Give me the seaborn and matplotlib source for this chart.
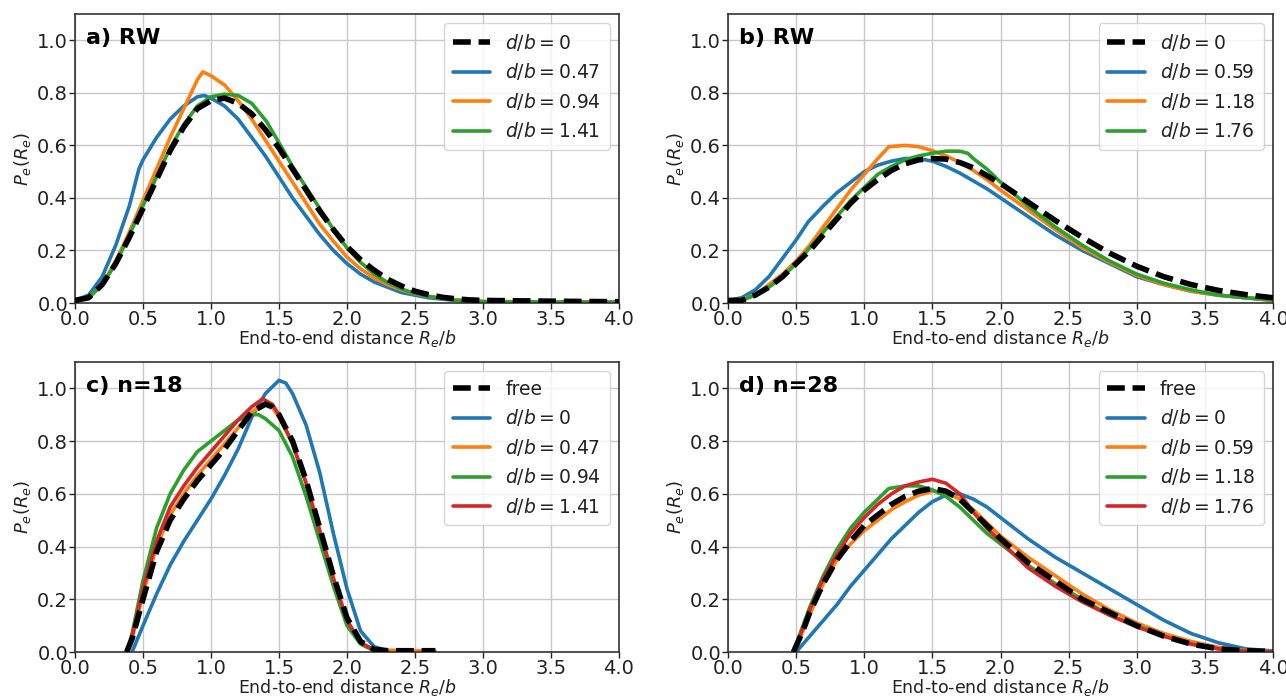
import numpy as np
import pandas as pd
import matplotlib
matplotlib.use("Agg")
import matplotlib.pyplot as plt
import seaborn as sns

# ---------------- data ----------------
# Panel a) RW
a_free_x = [0, 0.1, 0.2, 0.3, 0.4, 0.5, 0.6, 0.7, 0.8, 0.9, 1.0, 1.1, 1.2, 1.3, 1.4, 1.5, 1.6, 1.7, 1.8, 1.9, 2.0, 2.1, 2.2, 2.3, 2.4, 2.5, 2.6, 2.7, 2.8, 2.9, 3.0, 3.5, 4.0]
a_free_y = [0.01, 0.02, 0.07, 0.15, 0.25, 0.36, 0.47, 0.58, 0.67, 0.74, 0.77, 0.78, 0.76, 0.72, 0.66, 0.59, 0.51, 0.43, 0.35, 0.28, 0.215, 0.165, 0.125, 0.09, 0.065, 0.045, 0.032, 0.022, 0.016, 0.012, 0.01, 0.007, 0.005]
a_d047_x = [0, 0.1, 0.2, 0.3, 0.4, 0.47, 0.5, 0.6, 0.7, 0.8, 0.9, 0.95, 1.0, 1.1, 1.2, 1.3, 1.4, 1.5, 1.6, 1.7, 1.8, 1.9, 2.0, 2.1, 2.2, 2.3, 2.4, 2.5, 2.6, 2.8, 3.0, 4.0]
a_d047_y = [0.01, 0.03, 0.1, 0.22, 0.37, 0.51, 0.545, 0.63, 0.7, 0.75, 0.785, 0.79, 0.78, 0.75, 0.7, 0.63, 0.56, 0.48, 0.4, 0.33, 0.26, 0.2, 0.15, 0.11, 0.08, 0.06, 0.04, 0.03, 0.02, 0.01, 0.005, 0.003]
a_d094_x = [0, 0.1, 0.2, 0.3, 0.4, 0.5, 0.6, 0.7, 0.8, 0.9, 0.94, 1.0, 1.1, 1.2, 1.3, 1.4, 1.5, 1.6, 1.7, 1.8, 1.9, 2.0, 2.1, 2.2, 2.3, 2.4, 2.5, 2.6, 2.8, 3.0, 4.0]
a_d094_y = [0.01, 0.02, 0.07, 0.16, 0.27, 0.39, 0.51, 0.63, 0.74, 0.85, 0.88, 0.865, 0.83, 0.77, 0.7, 0.62, 0.54, 0.46, 0.38, 0.3, 0.235, 0.175, 0.13, 0.095, 0.07, 0.05, 0.035, 0.025, 0.012, 0.006, 0.003]
a_d141_x = [0, 0.1, 0.2, 0.3, 0.4, 0.5, 0.6, 0.7, 0.8, 0.9, 1.0, 1.1, 1.2, 1.3, 1.41, 1.5, 1.6, 1.7, 1.8, 1.9, 2.0, 2.1, 2.2, 2.3, 2.4, 2.5, 2.6, 2.8, 3.0, 4.0]
a_d141_y = [0.01, 0.02, 0.07, 0.15, 0.26, 0.37, 0.48, 0.59, 0.68, 0.75, 0.785, 0.795, 0.79, 0.76, 0.69, 0.61, 0.52, 0.44, 0.36, 0.28, 0.21, 0.155, 0.11, 0.078, 0.054, 0.036, 0.025, 0.01, 0.005, 0.003]

# Panel b) RW
b_free_x = [0, 0.1, 0.2, 0.3, 0.4, 0.5, 0.6, 0.7, 0.8, 0.9, 1.0, 1.1, 1.2, 1.3, 1.4, 1.5, 1.6, 1.7, 1.8, 1.9, 2.0, 2.2, 2.4, 2.6, 2.8, 3.0, 3.2, 3.4, 3.6, 3.8, 4.0]
b_free_y = [0.01, 0.01, 0.03, 0.06, 0.1, 0.15, 0.2, 0.26, 0.32, 0.38, 0.43, 0.47, 0.505, 0.53, 0.545, 0.55, 0.548, 0.535, 0.515, 0.485, 0.455, 0.385, 0.315, 0.25, 0.19, 0.14, 0.1, 0.07, 0.048, 0.032, 0.02]
b_d059_x = [0, 0.1, 0.2, 0.3, 0.4, 0.5, 0.59, 0.7, 0.8, 0.9, 1.0, 1.1, 1.2, 1.3, 1.4, 1.5, 1.6, 1.7, 1.8, 1.9, 2.0, 2.2, 2.4, 2.6, 2.8, 3.0, 3.2, 3.4, 3.6, 3.8, 4.0]
b_d059_y = [0.01, 0.02, 0.05, 0.1, 0.17, 0.24, 0.31, 0.37, 0.42, 0.46, 0.5, 0.525, 0.54, 0.55, 0.55, 0.54, 0.52, 0.495, 0.465, 0.435, 0.4, 0.33, 0.26, 0.2, 0.15, 0.1, 0.07, 0.045, 0.03, 0.02, 0.01]
b_d118_x = [0, 0.1, 0.2, 0.3, 0.4, 0.5, 0.6, 0.7, 0.8, 0.9, 1.0, 1.1, 1.18, 1.3, 1.4, 1.5, 1.6, 1.7, 1.8, 1.9, 2.0, 2.2, 2.4, 2.6, 2.8, 3.0, 3.2, 3.4, 3.6, 3.8, 4.0]
b_d118_y = [0.01, 0.015, 0.03, 0.07, 0.11, 0.16, 0.22, 0.29, 0.36, 0.43, 0.49, 0.55, 0.595, 0.6, 0.595, 0.58, 0.56, 0.535, 0.505, 0.47, 0.43, 0.355, 0.28, 0.21, 0.155, 0.105, 0.07, 0.045, 0.03, 0.02, 0.01]
b_d176_x = [0, 0.1, 0.2, 0.3, 0.4, 0.5, 0.6, 0.7, 0.8, 0.9, 1.0, 1.1, 1.2, 1.3, 1.4, 1.5, 1.6, 1.7, 1.76, 1.8, 1.9, 2.0, 2.2, 2.4, 2.6, 2.8, 3.0, 3.2, 3.4, 3.6, 3.8, 4.0]
b_d176_y = [0.005, 0.01, 0.03, 0.06, 0.1, 0.15, 0.21, 0.27, 0.33, 0.39, 0.44, 0.49, 0.52, 0.545, 0.56, 0.57, 0.578, 0.578, 0.57, 0.55, 0.51, 0.46, 0.37, 0.29, 0.22, 0.16, 0.11, 0.075, 0.05, 0.03, 0.02, 0.012]

# Panel c) n=18
c_free_x = [0.38, 0.42, 0.5, 0.6, 0.7, 0.8, 0.9, 1.0, 1.1, 1.2, 1.3, 1.4, 1.45, 1.5, 1.6, 1.7, 1.8, 1.9, 2.0, 2.1, 2.2, 2.3, 2.65]
c_free_y = [0.0, 0.05, 0.2, 0.38, 0.5, 0.58, 0.65, 0.71, 0.77, 0.84, 0.91, 0.94, 0.93, 0.9, 0.8, 0.65, 0.47, 0.29, 0.13, 0.04, 0.01, 0.005, 0.005]
c_d0_x = [0.42, 0.5, 0.6, 0.7, 0.8, 0.9, 1.0, 1.1, 1.2, 1.3, 1.4, 1.5, 1.55, 1.6, 1.7, 1.8, 1.9, 2.0, 2.1, 2.2, 2.3]
c_d0_y = [0.0, 0.1, 0.22, 0.33, 0.42, 0.5, 0.58, 0.67, 0.77, 0.89, 0.98, 1.03, 1.02, 0.98, 0.86, 0.68, 0.45, 0.24, 0.08, 0.02, 0.005]
c_d047_x = [0.38, 0.42, 0.5, 0.6, 0.7, 0.8, 0.9, 1.0, 1.1, 1.2, 1.3, 1.4, 1.45, 1.5, 1.6, 1.7, 1.8, 1.9, 2.0, 2.1, 2.2, 2.65]
c_d047_y = [0.0, 0.05, 0.22, 0.4, 0.52, 0.6, 0.67, 0.73, 0.79, 0.85, 0.91, 0.94, 0.93, 0.89, 0.79, 0.64, 0.46, 0.28, 0.12, 0.035, 0.008, 0.003]
c_d094_x = [0.38, 0.42, 0.5, 0.6, 0.7, 0.8, 0.9, 1.0, 1.1, 1.2, 1.3, 1.35, 1.4, 1.5, 1.6, 1.7, 1.8, 1.9, 2.0, 2.1, 2.2]
c_d094_y = [0.0, 0.07, 0.27, 0.47, 0.6, 0.69, 0.76, 0.8, 0.84, 0.88, 0.9, 0.9, 0.885, 0.84, 0.74, 0.59, 0.42, 0.25, 0.1, 0.03, 0.005]
c_d141_x = [0.38, 0.42, 0.5, 0.6, 0.7, 0.8, 0.9, 1.0, 1.1, 1.2, 1.3, 1.38, 1.45, 1.5, 1.6, 1.7, 1.8, 1.9, 2.0, 2.1, 2.2, 2.3]
c_d141_y = [0.0, 0.06, 0.24, 0.42, 0.55, 0.63, 0.7, 0.76, 0.82, 0.88, 0.93, 0.96, 0.94, 0.9, 0.79, 0.64, 0.46, 0.28, 0.12, 0.035, 0.008, 0.003]

# Panel d) n=28
d_free_x = [0.48, 0.55, 0.6, 0.7, 0.8, 0.9, 1.0, 1.1, 1.2, 1.3, 1.4, 1.5, 1.6, 1.7, 1.8, 1.9, 2.0, 2.2, 2.4, 2.6, 2.8, 3.0, 3.2, 3.4, 3.6, 3.8, 4.0]
d_free_y = [0.0, 0.08, 0.15, 0.26, 0.35, 0.42, 0.48, 0.52, 0.56, 0.59, 0.61, 0.62, 0.61, 0.58, 0.53, 0.48, 0.43, 0.34, 0.27, 0.2, 0.15, 0.1, 0.06, 0.03, 0.012, 0.005, 0.002]
d_d0_x = [0.5, 0.6, 0.7, 0.8, 0.9, 1.0, 1.1, 1.2, 1.3, 1.4, 1.5, 1.6, 1.7, 1.8, 1.9, 2.0, 2.2, 2.4, 2.6, 2.8, 3.0, 3.2, 3.4, 3.6, 3.8, 4.0]
d_d0_y = [0.0, 0.06, 0.12, 0.18, 0.25, 0.31, 0.37, 0.43, 0.48, 0.53, 0.57, 0.595, 0.6, 0.58, 0.55, 0.51, 0.43, 0.36, 0.3, 0.24, 0.18, 0.12, 0.07, 0.035, 0.012, 0.004]
d_d059_x = [0.48, 0.55, 0.59, 0.7, 0.8, 0.9, 1.0, 1.1, 1.2, 1.3, 1.4, 1.5, 1.6, 1.7, 1.8, 1.9, 2.0, 2.2, 2.4, 2.6, 2.8, 3.0, 3.2, 3.4, 3.6, 3.8, 4.0]
d_d059_y = [0.0, 0.08, 0.13, 0.26, 0.35, 0.41, 0.46, 0.5, 0.54, 0.57, 0.595, 0.61, 0.605, 0.58, 0.54, 0.49, 0.44, 0.36, 0.29, 0.22, 0.16, 0.11, 0.07, 0.04, 0.018, 0.006, 0.002]
d_d118_x = [0.48, 0.55, 0.6, 0.7, 0.8, 0.9, 1.0, 1.1, 1.18, 1.3, 1.4, 1.5, 1.6, 1.7, 1.8, 1.9, 2.0, 2.2, 2.4, 2.6, 2.8, 3.0, 3.2, 3.4, 3.6, 3.8, 4.0]
d_d118_y = [0.0, 0.1, 0.17, 0.29, 0.39, 0.47, 0.53, 0.58, 0.62, 0.63, 0.63, 0.615, 0.59, 0.55, 0.5, 0.45, 0.41, 0.33, 0.26, 0.2, 0.14, 0.1, 0.06, 0.03, 0.012, 0.004, 0.001]
d_d176_x = [0.48, 0.55, 0.6, 0.7, 0.8, 0.9, 1.0, 1.1, 1.2, 1.3, 1.4, 1.5, 1.6, 1.7, 1.76, 1.8, 1.9, 2.0, 2.2, 2.4, 2.6, 2.8, 3.0, 3.2, 3.4, 3.6, 3.8, 4.0]
d_d176_y = [0.0, 0.09, 0.16, 0.28, 0.37, 0.45, 0.51, 0.56, 0.6, 0.63, 0.645, 0.655, 0.64, 0.6, 0.56, 0.53, 0.47, 0.42, 0.32, 0.25, 0.19, 0.14, 0.095, 0.06, 0.03, 0.012, 0.004, 0.001]

panel_titles = ["a) RW", "b) RW", "c) n=18", "d) n=28"]
labels_a = ["$d/b = 0$", "$d/b = 0.47$", "$d/b = 0.94$", "$d/b = 1.41$"]
labels_b = ["$d/b = 0$", "$d/b = 0.59$", "$d/b = 1.18$", "$d/b = 1.76$"]
labels_c = ["free", "$d/b = 0$", "$d/b = 0.47$", "$d/b = 0.94$", "$d/b = 1.41$"]
labels_d = ["free", "$d/b = 0$", "$d/b = 0.59$", "$d/b = 1.18$", "$d/b = 1.76$"]
x_ticks = [0.0, 0.5, 1.0, 1.5, 2.0, 2.5, 3.0, 3.5, 4.0]
y_ticks = [0.0, 0.2, 0.4, 0.6, 0.8, 1.0]

panels = [
    (panel_titles[0], labels_a, [(a_free_x, a_free_y), (a_d047_x, a_d047_y), (a_d094_x, a_d094_y), (a_d141_x, a_d141_y)]),
    (panel_titles[1], labels_b, [(b_free_x, b_free_y), (b_d059_x, b_d059_y), (b_d118_x, b_d118_y), (b_d176_x, b_d176_y)]),
    (panel_titles[2], labels_c, [(c_free_x, c_free_y), (c_d0_x, c_d0_y), (c_d047_x, c_d047_y), (c_d094_x, c_d094_y), (c_d141_x, c_d141_y)]),
    (panel_titles[3], labels_d, [(d_free_x, d_free_y), (d_d0_x, d_d0_y), (d_d059_x, d_d059_y), (d_d118_x, d_d118_y), (d_d176_x, d_d176_y)]),
]

# ---------------- style ----------------
sns.set_theme(style="ticks", rc={
    "axes.grid": True,
    "grid.color": "#c8c8c8",
    "grid.linewidth": 1.0,
    "axes.edgecolor": "#333333",
    "axes.linewidth": 1.2,
    "xtick.color": "#222222",
    "ytick.color": "#222222",
    "axes.labelcolor": "#222222",
    "text.color": "#222222",
})
plt.rcParams["font.family"] = ["DejaVu Sans"]
plt.rcParams["mathtext.fontset"] = "dejavusans"

colors = ["#1f77b4", "#ff7f0e", "#2ca02c", "#d62728"]

fig = plt.figure(figsize=(12.86, 6.99), dpi=100)
positions = [
    [0.0583, 0.5665, 0.423, 0.4134],
    [0.5661, 0.5665, 0.4238, 0.4134],
    [0.0583, 0.0672, 0.423, 0.415],
    [0.5661, 0.0672, 0.4238, 0.415],
]

for pos, (title, labels, series) in zip(positions, panels):
    ax = fig.add_axes(pos)
    for i, ((xs, ys), lab) in enumerate(zip(series, labels)):
        df = pd.DataFrame({"x": xs, "y": ys})
        if i == 0:
            sns.lineplot(data=df, x="x", y="y", ax=ax, color="black", linewidth=4.0,
                         linestyle=(0, (3.2, 1.4)), label=lab, zorder=3)
        else:
            sns.lineplot(data=df, x="x", y="y", ax=ax, color=colors[i - 1], linewidth=2.6,
                         label=lab, zorder=2)
    ax.set_xlim(0, 4)
    ax.set_ylim(0, 1.1)
    ax.set_xticks(x_ticks)
    ax.set_yticks(y_ticks)
    ax.tick_params(labelsize=14, length=4, width=1, pad=1)
    ax.set_xlabel("End-to-end distance $R_e/b$", fontsize=12.5, labelpad=-1)
    ax.set_ylabel("$P_e(R_e)$", fontsize=13, labelpad=3)
    ax.text(0.02, 0.917, title, transform=ax.transAxes, fontsize=16,
            fontweight="bold", va="center", ha="left", color="black")
    leg = ax.legend(loc="upper right", fontsize=13.5, handlelength=2.0,
                    frameon=True, framealpha=0.8, borderpad=0.45, labelspacing=0.45,
                    borderaxespad=0.5)
    leg.get_frame().set_edgecolor("#cccccc")

fig.savefig("out.png", dpi=100)
